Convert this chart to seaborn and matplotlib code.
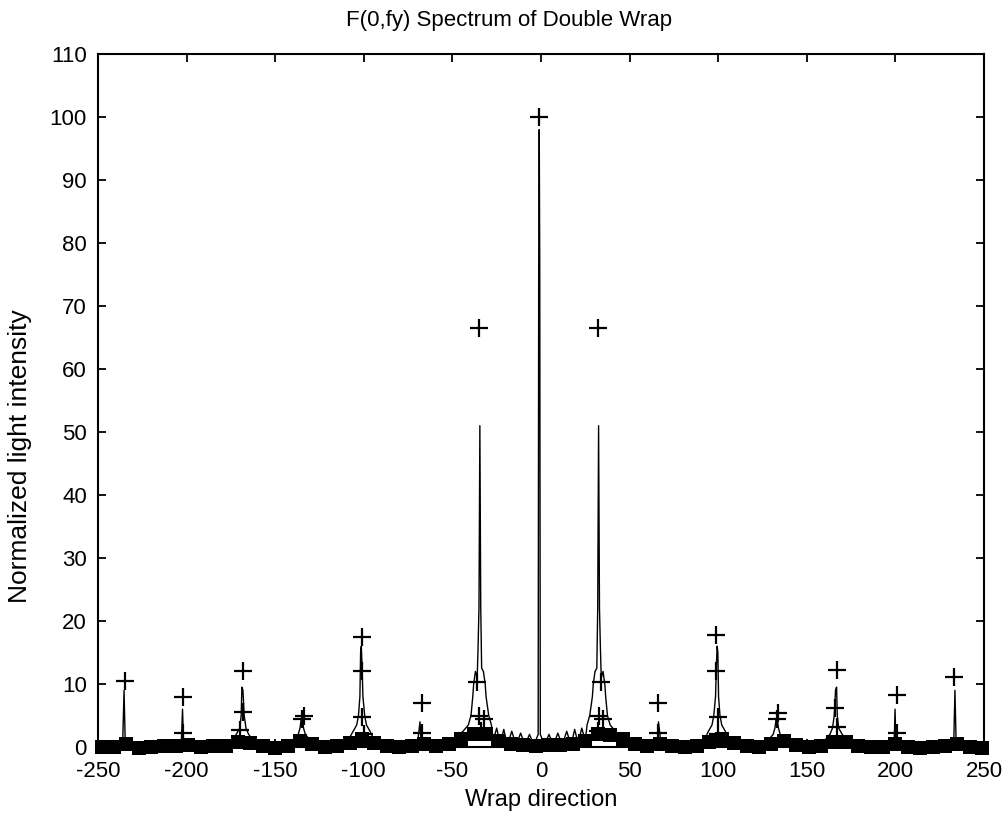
import matplotlib
matplotlib.use("Agg")
import matplotlib.pyplot as plt
import seaborn as sns
import pandas as pd

# ---------------- data ----------------
LINE_X = [-250, -245, -240, -238, -236, -235.3, -234.7, -232, -228, -220,
          -212, -205, -203, -202.3, -201.7, -198, -190, -180, -175, -172,
          -170, -169.2, -168.8, -168.2, -167.5, -166.5, -165, -162, -155, -145,
          -140, -137, -136, -135.3, -134.7, -134, -133, -130, -125, -115,
          -109, -106, -104, -103, -102.2, -101.8, -101.4, -101, -100.5, -99.5,
          -98.5, -96.5, -94, -88, -80, -72, -69.5, -68.3, -67.7, -66,
          -60, -52, -48, -44, -41, -39.5, -38.5, -38, -37, -36,
          -35.5, -35, -34.5, -34, -33.5, -32.5, -31.5, -31, -29.5, -28,
          -27, -25, -23, -21, -19, -16.5, -14, -11.5, -9, -6.5,
          -4, -1.6, -1.3, -1, -0.7, -0.4, 2, 4.5, 7, 9.5,
          12, 14.5, 17, 19, 21, 23, 25, 26, 27.5, 29,
          29.5, 30.5, 31.5, 32, 32.5, 33, 33.5, 34, 35, 36,
          36.5, 37.5, 39, 42, 46, 50, 58, 64, 65.7, 66.3,
          67.5, 70, 78, 86, 92, 94.5, 96.5, 97.5, 98.5, 99,
          99.4, 99.8, 100.2, 101, 102, 104, 107, 113, 123, 128,
          131, 132, 132.7, 133.3, 134, 135, 138, 143, 153, 160,
          163, 164.5, 165.5, 166.2, 166.8, 167.2, 168, 170, 173, 178,
          188, 196, 199.3, 199.8, 200.3, 203, 210, 220, 228, 231,
          233, 233.6, 234.2, 236, 242, 250]
LINE_Y = [0.4, 0.5, 0.6, 0.5, 1.5, 9, 1.5, 0.6, 0.5, 0.4,
          0.5, 0.6, 0.5, 6, 0.6, 0.5, 0.5, 0.6, 1, 2,
          3, 5, 9.5, 9, 5, 3, 2, 1, 0.6, 0.6,
          1, 2, 3, 4.5, 4.5, 3, 2, 1, 0.6, 0.6,
          1, 2.5, 3.5, 5, 8, 15, 16, 13, 8, 5,
          3.5, 2.5, 1, 0.6, 0.5, 0.6, 1, 4, 1, 0.6,
          0.6, 1, 1.5, 2.5, 3.5, 5, 8, 10, 12, 11,
          16, 22, 51, 22, 12.5, 12, 10, 8, 5, 3.5,
          1, 3, 0.5, 2.8, 0.3, 2.5, 0.3, 2.2, 0.3, 2,
          0.3, 2, 76, 98, 76, 2, 0.3, 2, 0.3, 2.2,
          0.3, 2.5, 0.3, 2.8, 0.5, 3, 1, 3.5, 5, 8,
          10, 12, 12.5, 22, 51, 22, 16, 11, 12, 10,
          8, 5, 3.5, 2.5, 1.5, 1, 0.6, 0.6, 1, 4,
          1, 0.6, 0.5, 0.6, 1, 2.5, 3.5, 5, 8, 13,
          16, 15, 8, 5, 3.5, 2.5, 1, 0.6, 0.6, 1,
          2, 3, 4.5, 4.5, 3, 2, 1, 0.6, 0.6, 1,
          2, 3, 5, 9, 9.5, 5, 3, 2, 1, 0.6,
          0.5, 0.5, 0.6, 6, 0.6, 0.5, 0.5, 0.4, 0.5, 0.6,
          1.5, 9, 1.5, 0.6, 0.5, 0.4]

PLUS_X = [-235, -202, -202, -168, -168, -170, -134, -135, -101, -101,
          -101, -100, -67, -67, -35, -36, -35, -32, -34, -1,
          32, 34, 33, 35, 32, 66, 66, 99, 99, 100,
          100, 134, 133, 167, 166, 167, 201, 201, 233]
PLUS_Y = [10.5, 8, 2.2, 12, 5.5, 2.7, 5, 4.5, 17.5, 12,
          4.8, 2.0, 7, 2.2, 66.5, 10.3, 5, 4.5, 2.5, 100,
          66.5, 10.3, 5, 4.5, 2.5, 7, 2.2, 17.7, 12, 4.8,
          2.0, 5.4, 4.5, 12.2, 6.2, 3.2, 8.3, 2.2, 11.1]

SQ_X = [-248, -241, -234, -227, -220, -213, -206, -199, -192, -185,
        -178, -171, -164, -157, -150, -143, -136, -129, -122, -115,
        -108, -101, -94, -87, -80, -73, -66, -59, -52, -45,
        -38, -31, -24, -17, -10, -3, 4, 11, 18, 25,
        32, 39, 46, 53, 60, 67, 74, 81, 88, 95,
        102, 109, 116, 123, 130, 137, 144, 151, 158, 165,
        172, 179, 186, 193, 200, 207, 214, 221, 228, 235,
        242, 249]
SQ_Y = [0.0, 0.0, 0.4, -0.1, 0.0, 0.1, 0.1, 0.3, 0.0, 0.1,
        0.2, 0.8, 0.6, 0.1, -0.1, 0.2, 1.0, 0.4, 0.0, 0.1,
        0.7, 1.3, 0.7, 0.2, 0.0, 0.2, 0.4, 0.2, 0.4, 1.2,
        2.0, 2.0, 1.0, 0.4, 0.3, 0.2, 0.3, 0.3, 0.4, 1.0,
        2.0, 1.9, 1.2, 0.4, 0.1, 0.4, 0.1, 0.0, 0.2, 0.8,
        1.3, 0.6, 0.1, 0.0, 0.4, 1.0, 0.3, 0.0, 0.2, 0.8,
        0.8, 0.1, 0.0, 0.0, 0.4, 0.0, -0.1, 0.0, 0.1, 0.4,
        0.0, -0.1]

X_TICKS = [-250, -200, -150, -100, -50, 0, 50, 100, 150, 200, 250]
Y_TICKS = [0, 10, 20, 30, 40, 50, 60, 70, 80, 90, 100, 110]

TITLE = "F(0,fy) Spectrum of Double Wrap"
XLABEL = "Wrap direction"
YLABEL = "Normalized light intensity"

# ---------------- plotting ----------------
sns.set_theme(style="white")
plt.rcParams["font.family"] = ["Liberation Sans", "DejaVu Sans"]

fig = plt.figure(figsize=(10.06, 8.25), dpi=100)
ax = fig.add_axes([98 / 1006, (825 - 747) / 825, 886 / 1006, 693 / 825])

line_df = pd.DataFrame({"x": LINE_X, "y": LINE_Y})
sns.lineplot(data=line_df, x="x", y="y", ax=ax, color="black", lw=1.0,
             estimator=None, sort=False)

sq_df = pd.DataFrame({"x": SQ_X, "y": SQ_Y})
sns.scatterplot(data=sq_df, x="x", y="y", ax=ax, marker="s", s=95,
                color="black", linewidth=0, clip_on=False, zorder=3)

plus_df = pd.DataFrame({"x": PLUS_X, "y": PLUS_Y})
sns.scatterplot(data=plus_df, x="x", y="y", ax=ax, marker="+", s=150,
                color="black", linewidth=1.6, zorder=4)

ax.set_xlim(-250, 250)
ax.set_ylim(0, 110)
ax.set_xticks(X_TICKS)
ax.set_yticks(Y_TICKS)
ax.set_xticklabels([str(v) for v in X_TICKS])
ax.set_yticklabels([str(v) for v in Y_TICKS])

for sp in ax.spines.values():
    sp.set_visible(True)
    sp.set_color("black")
    sp.set_linewidth(1.5)

ax.tick_params(axis="both", which="both", direction="in", length=6, width=1.3,
               top=True, right=True, bottom=True, left=True,
               labelsize=16, colors="black")
ax.tick_params(axis="y", pad=8)
ax.tick_params(axis="x", pad=10)

ax.set_title(TITLE, fontsize=16, color="black", pad=20, x=0.464)
ax.set_xlabel(XLABEL, fontsize=17, color="black", labelpad=5)
ax.set_ylabel(YLABEL, fontsize=19, color="black")
ax.yaxis.set_label_coords(-0.074, 0.42)

fig.savefig("out.png", dpi=100, facecolor="white")
